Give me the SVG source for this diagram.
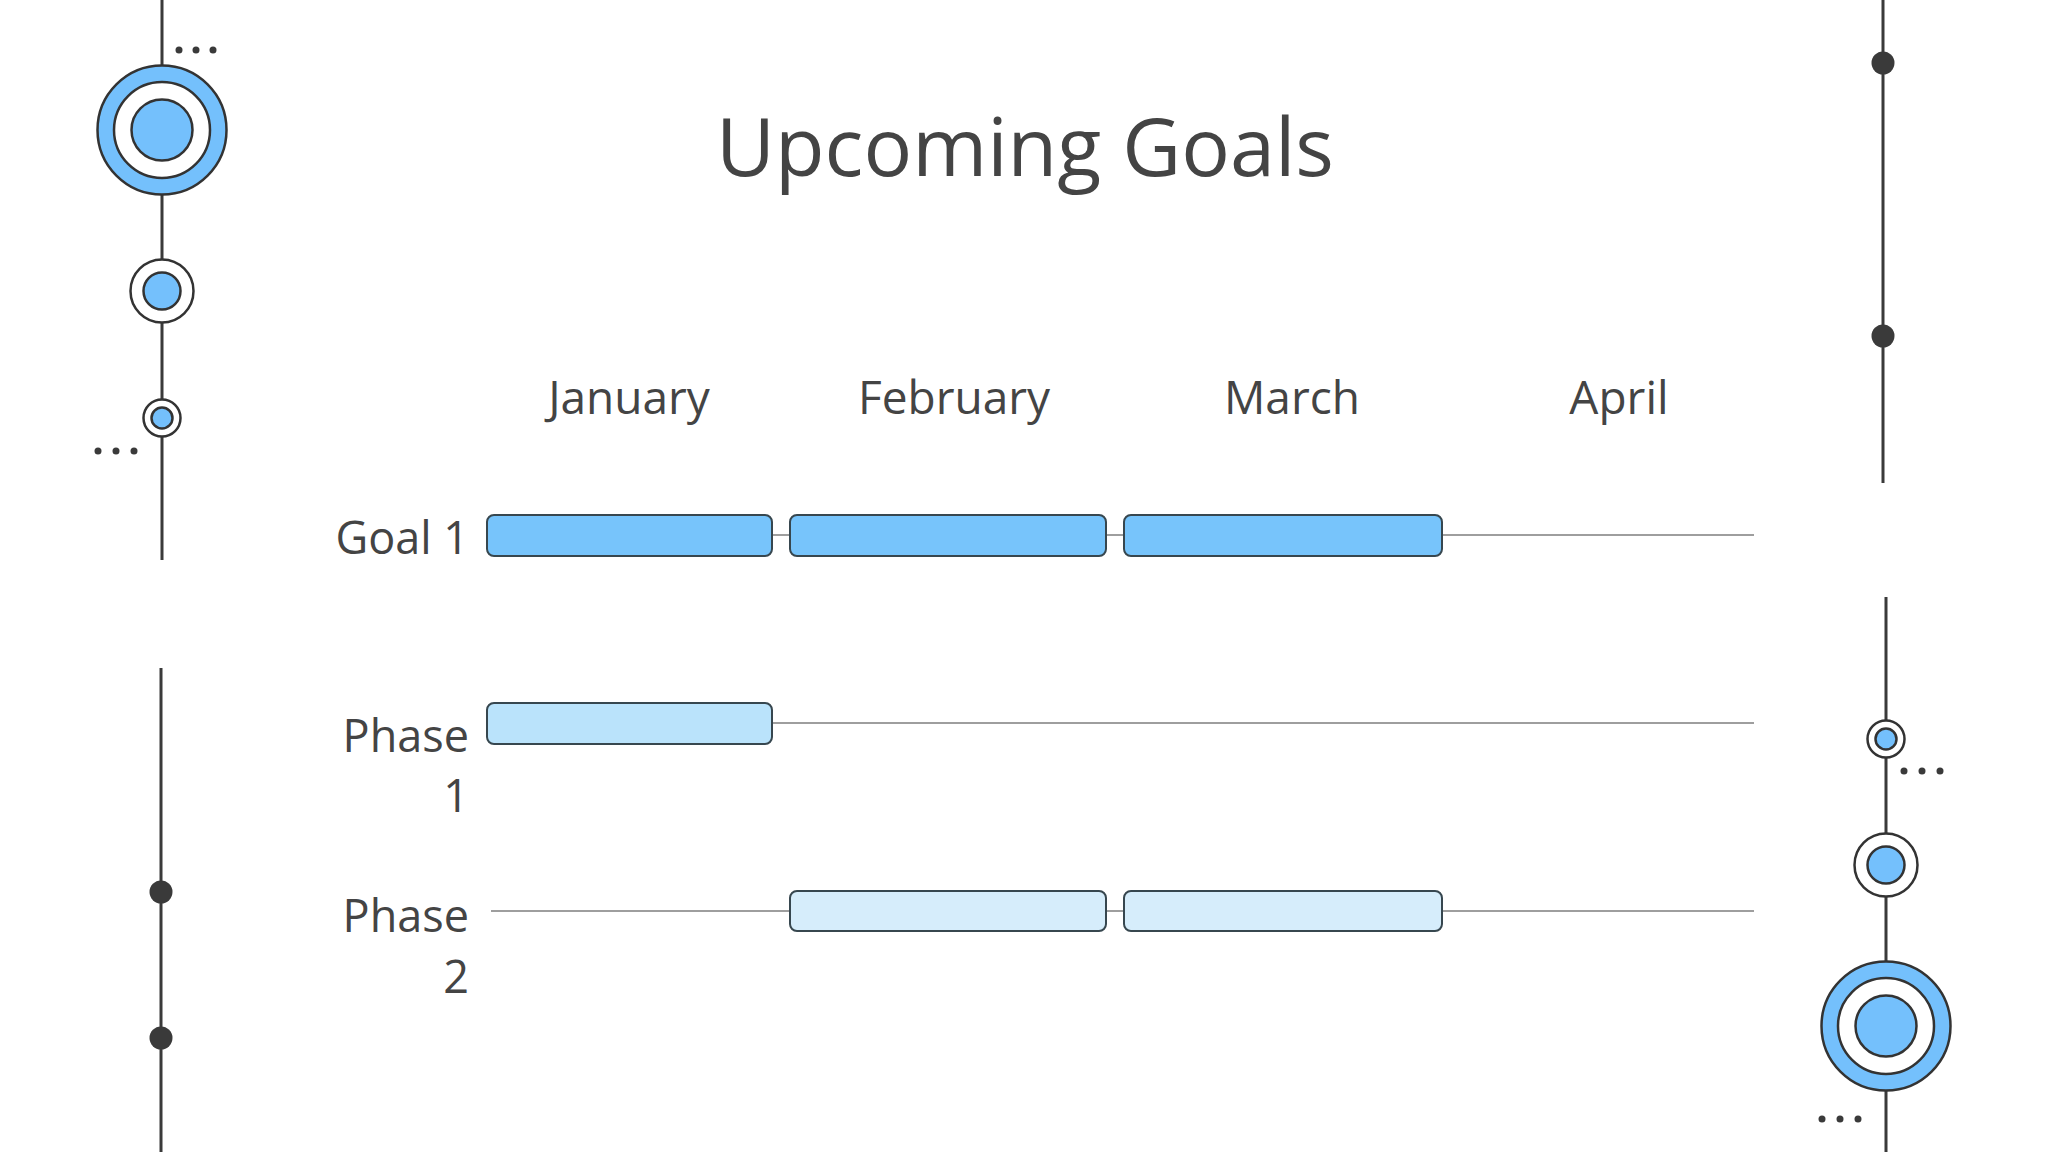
<svg xmlns="http://www.w3.org/2000/svg" width="2048" height="1152" viewBox="0 0 2048 1152">
<style>
.bg{fill:#ffffff}
.t{font-family:"Open Sans","Noto Sans","Liberation Sans",sans-serif;fill:#444444}
.title{font-size:81px;text-anchor:middle}
.month{font-size:46px;text-anchor:middle}
.row{font-size:45px;text-anchor:end}
.track{stroke:#9e9e9e;stroke-width:2;fill:none}
.bar{stroke:#37474f;stroke-width:2}
.g1{fill:#77c4fb}
.p1{fill:#bae3fb}
.p2{fill:#d6edfb}
.deco{stroke:#3a3a3a;stroke-width:3;fill:none}
.ring{stroke:#333333;stroke-width:2.5}
.blue{fill:#74c0fc}
.white{fill:#ffffff}
.dot{fill:#3a3a3a}
</style>
<rect class="bg" x="0" y="0" width="2048" height="1152"/>

<g id="decorations">
  <line class="deco" x1="162" y1="0" x2="162" y2="560"/>
  <line class="deco" x1="161" y1="668" x2="161" y2="1152"/>
  <line class="deco" x1="1883" y1="0" x2="1883" y2="483"/>
  <line class="deco" x1="1886" y1="597" x2="1886" y2="1152"/>
</g>

<g id="left-big-circle">
  <circle class="ring blue" cx="162" cy="130" r="64.5"/>
  <circle class="ring white" cx="162" cy="130" r="48"/>
  <circle class="ring blue" cx="162" cy="130" r="30.5"/>
</g>
<g id="left-top-dots">
  <circle class="dot" cx="179" cy="50" r="3.5"/>
  <circle class="dot" cx="196" cy="50" r="3.5"/>
  <circle class="dot" cx="213" cy="50" r="3.5"/>
</g>
<g id="left-medium-circle">
  <circle class="ring white" cx="162" cy="291" r="31.5"/>
  <circle class="ring blue" cx="162" cy="291" r="18.5"/>
</g>
<g id="left-small-circle">
  <circle class="ring white" cx="162" cy="418" r="18.5"/>
  <circle class="ring blue" cx="162" cy="418" r="10.5"/>
</g>
<g id="left-mid-dots">
  <circle class="dot" cx="98" cy="451" r="3.5"/>
  <circle class="dot" cx="116" cy="451" r="3.5"/>
  <circle class="dot" cx="134" cy="451" r="3.5"/>
</g>
<g id="left-bottom-dots">
  <circle class="dot" cx="161" cy="892" r="11.5"/>
  <circle class="dot" cx="161" cy="1038" r="11.5"/>
</g>
<g id="right-top-dots">
  <circle class="dot" cx="1883" cy="63" r="11.5"/>
  <circle class="dot" cx="1883" cy="336" r="11.5"/>
</g>
<g id="right-small-circle">
  <circle class="ring white" cx="1886" cy="739" r="18.5"/>
  <circle class="ring blue" cx="1886" cy="739" r="10.5"/>
</g>
<g id="right-mid-dots">
  <circle class="dot" cx="1904" cy="771" r="3.5"/>
  <circle class="dot" cx="1922" cy="771" r="3.5"/>
  <circle class="dot" cx="1940" cy="771" r="3.5"/>
</g>
<g id="right-medium-circle">
  <circle class="ring white" cx="1886" cy="865" r="31.5"/>
  <circle class="ring blue" cx="1886" cy="865" r="18.5"/>
</g>
<g id="right-big-circle">
  <circle class="ring blue" cx="1886" cy="1026" r="64.5"/>
  <circle class="ring white" cx="1886" cy="1026" r="48"/>
  <circle class="ring blue" cx="1886" cy="1026" r="30.5"/>
</g>
<g id="right-bottom-dots">
  <circle class="dot" cx="1822" cy="1119" r="3.5"/>
  <circle class="dot" cx="1840" cy="1119" r="3.5"/>
  <circle class="dot" cx="1858" cy="1119" r="3.5"/>
</g>

<g id="title"><text class="t title" x="1025" y="176">Upcoming Goals</text></g>

<g id="months">
  <text class="t month" x="629" y="414">January</text>
  <text class="t month" x="954" y="414">February</text>
  <text class="t month" x="1292" y="414">March</text>
  <text class="t month" x="1619" y="414">April</text>
</g>

<g id="row-labels">
  <text class="t row" x="469" y="554">Goal 1</text>
  <text class="t row" x="469" y="752">Phase</text>
  <text class="t row" x="469" y="812">1</text>
  <text class="t row" x="469" y="932">Phase</text>
  <text class="t row" x="469" y="993">2</text>
</g>

<g id="connectors">
  <line class="track" x1="491" y1="535" x2="1754" y2="535"/>
  <line class="track" x1="491" y1="723" x2="1754" y2="723"/>
  <line class="track" x1="491" y1="911" x2="1754" y2="911"/>
</g>

<g id="goal1-jan"><rect class="bar g1" x="487" y="515" width="285" height="41" rx="7"/></g>
<g id="goal1-feb"><rect class="bar g1" x="790" y="515" width="316" height="41" rx="7"/></g>
<g id="goal1-mar"><rect class="bar g1" x="1124" y="515" width="318" height="41" rx="7"/></g>
<g id="phase1-jan"><rect class="bar p1" x="487" y="703" width="285" height="41" rx="7"/></g>
<g id="phase2-feb"><rect class="bar p2" x="790" y="891" width="316" height="40" rx="7"/></g>
<g id="phase2-mar"><rect class="bar p2" x="1124" y="891" width="318" height="40" rx="7"/></g>
</svg>
